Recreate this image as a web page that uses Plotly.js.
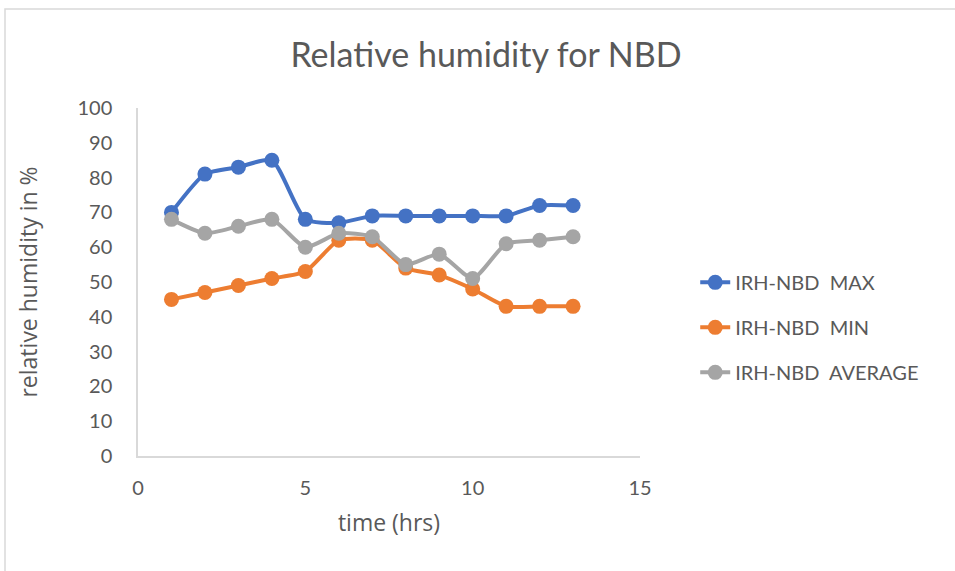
<!DOCTYPE html>
<html>
<head>
<meta charset="utf-8">
<script src="https://cdn.plot.ly/plotly-3.0.1.min.js"></script>
<style>html,body{margin:0;padding:0;background:#fff;}#chart{width:955px;height:571px;}</style>
</head>
<body>
<div id="chart"></div>
<script>
const hours = [1,2,3,4,5,6,7,8,9,10,11,12,13];
const rhMax = [70,81,83,85,68,67,69,69,69,69,69,72,72];
const rhMin = [45,47,49,51,53,62,62,54,52,48,43,43,43];
const rhAvg = [68,64,66,68,60,64,63,55,58,51,61,62,63];
const seriesNames = ['IRH-NBD  MAX','IRH-NBD  MIN','IRH-NBD  AVERAGE'];
const seriesColors = ['#4472C4','#ED7D31','#A5A5A5'];
const xTicks = [0,5,10,15];
const yTicks = [0,10,20,30,40,50,60,70,80,90,100];

const font = 'Lato, "Noto Sans", sans-serif';
const titleFont = '"Open Sans", "Noto Sans", sans-serif';
const txt = '#595959';
const allY = [rhMax, rhMin, rhAvg];
const traces = allY.map((ys, i) => ({
  x: hours, y: ys, name: seriesNames[i], legendgroup: 'g'+i,
  type: 'scatter', mode: 'lines+markers',
  line: {color: seriesColors[i], width: 4, shape: 'spline', smoothing: 0.6},
  marker: {color: seriesColors[i], size: 15}
}));

const layout = {
  width: 955, height: 571,
  paper_bgcolor: '#fff', plot_bgcolor: '#fff',
  margin: {l: 138, r: 315, t: 108, b: 115},
  font: {family: font, color: txt, size: 20},
  title: {text: 'Relative humidity for NBD', font: {family: font, size: 34, color: txt},
          x: 486/955, xanchor: 'center', y: 1 - 55/571, yanchor: 'middle'},
  xaxis: {range: [0, 15], tickvals: xTicks, ticktext: xTicks.map(String),
          showgrid: false, zeroline: false, showline: true, linecolor: '#D9D9D9', linewidth: 1.5,
          ticks: '', ticklabelstandoff: 13, tickfont: {size: 20, color: txt},
          title: {text: 'time (hrs)', font: {family: titleFont, size: 23, color: txt}, standoff: 17}},
  yaxis: {range: [0, 100], tickvals: yTicks, ticktext: yTicks.map(String),
          showgrid: false, zeroline: false, showline: true, linecolor: '#D9D9D9', linewidth: 1.5,
          ticks: '', ticklabelstandoff: 20, tickfont: {size: 20, color: txt},
          title: {text: 'relative humidity in %', font: {family: titleFont, size: 23, color: txt}, standoff: 33}},
  legend: {x: 1.11, xanchor: 'left', y: 0.555, yanchor: 'top',
           font: {size: 20, color: txt}, tracegroupgap: 16, bgcolor: 'rgba(0,0,0,0)'},
  shapes: [{type: 'rect', xref: 'paper', yref: 'paper',
            x0: (5 - 138) / 502, x1: (960 - 138) / 502,
            y0: (456 - 580) / 348, y1: (456 - 9) / 348,
            line: {color: '#D9D9D9', width: 1.5}}]
};
Plotly.newPlot('chart', traces, layout, {displayModeBar: false});
</script>
</body>
</html>
